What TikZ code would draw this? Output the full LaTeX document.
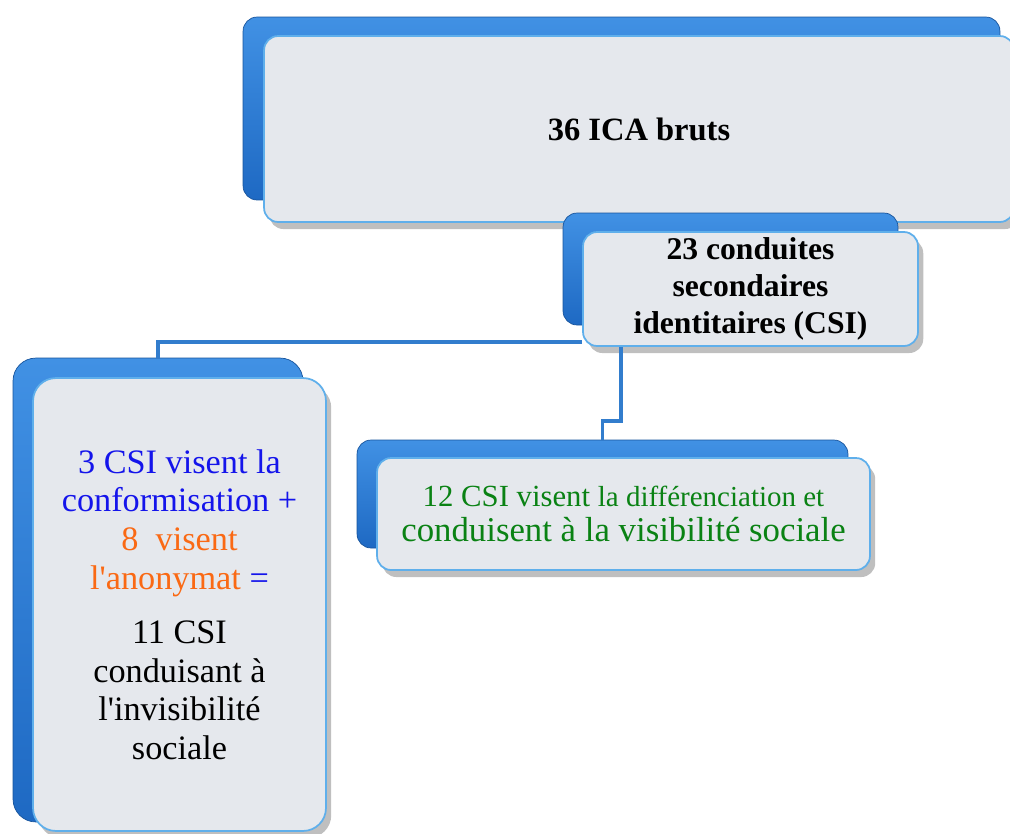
\documentclass[tikz,border=0pt]{standalone}
\usepackage{fontspec}
\setmainfont{Liberation Serif}
\usepackage{tikz}
\usetikzlibrary{shadows}
\definecolor{bblue}{RGB}{30,105,195}
\definecolor{bbluel}{RGB}{65,145,228}
\definecolor{fgray}{RGB}{229,232,237}
\definecolor{fedge}{RGB}{95,175,235}
\definecolor{lcol}{RGB}{50,125,205}
\definecolor{tblue}{RGB}{20,20,235}
\definecolor{torange}{RGB}{250,105,20}
\definecolor{tgreen}{RGB}{10,130,20}
\tikzset{every picture/.style={x=0.02cm,y=-0.02cm}}
\tikzset{back/.style={rectangle,rounded corners=8pt,draw=bblue!80!black,top color=bbluel,bottom color=bblue,inner sep=0pt}}
\tikzset{front/.style={rectangle,rounded corners=8pt,draw=fedge,line width=1pt,fill=fgray,inner sep=2pt,align=center,
  drop shadow={shadow xshift=3pt,shadow yshift=-4pt,opacity=.5}}}
\tikzset{link/.style={draw=lcol,line width=2pt}}
\tikzset{big/.style={font=\fontsize{19.5}{22}\selectfont}}

\begin{document}
\begin{tikzpicture}
\useasboundingbox (0,0) rectangle (1010,833);

\node [back,minimum width=15.14cm,minimum height=3.66cm] (ica_) at (621.5,108.5) {};
\node [front,minimum width=15cm,minimum height=3.72cm,font=\fontsize{18.5}{22}\selectfont\bfseries] (ica) at (639,129) {36 ICA bruts};

\node [back,minimum width=6.7cm,minimum height=2.24cm] (csi_) at (730.5,269) {};
\node [front,minimum width=6.7cm,minimum height=2.28cm,font=\fontsize{18}{21}\selectfont\bfseries] (csi) at (750.5,289)
  {23 conduites\\secondaires\\identitaires (CSI)};

\node [back,minimum width=5.8cm,minimum height=9.28cm,rounded corners=13pt] (inv_) at (158,590) {};
\node [front,big,minimum width=5.86cm,minimum height=9.06cm,rounded corners=13pt] (inv) at (179.5,604.5)
  {\color{tblue}3 CSI visent la\\
   \color{tblue}conformisation +\\
   \color{torange}8\ \ visent\\
   \color{torange}l\textquotesingle anonymat {\color{tblue}=}\\[9pt]
   11 CSI\\
   conduisant à\\
   l\textquotesingle invisibilité\\
   sociale};

\node [back,minimum width=9.82cm,minimum height=2.16cm] (vis_) at (602.5,494) {};
\node [front,minimum width=9.86cm,minimum height=2.24cm,text=tgreen,font=\fontsize{19.8}{20}\selectfont] (vis) at (623.5,514)
  {{\fontsize{17.5}{20}\selectfont 12 CSI visent {\fontsize{16.5}{20}\selectfont la différenciation et}}\\
   conduisent à la visibilité sociale};

\draw [link] (csi.south west) ++(0,-5) -| (inv_.north);
\draw [link] (csi.south west) ++(39,0) -- ++(0,74) -| (vis_.north);
\end{tikzpicture}
\end{document}
